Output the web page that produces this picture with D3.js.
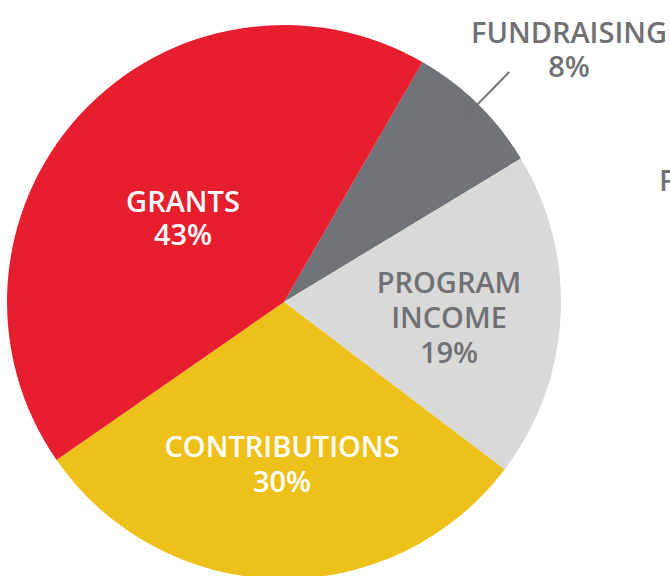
<!DOCTYPE html>
<html lang="en">
<head>
  <meta charset="UTF-8">
  <title>Revenue</title>
  <style>
    body { margin: 0; background: #fff; }
    svg { display: block; }
    .label { font-family: "Open Sans", sans-serif; font-weight: 600; font-size: 29px; text-anchor: middle; }
  </style>
</head>
<body>
  <script src="https://cdn.jsdelivr.net/npm/d3@7"></script>
  <script>
    const categories = ['FUNDRAISING', 'PROGRAM INCOME', 'CONTRIBUTIONS', 'GRANTS'];
    const values = [8, 19, 30, 43];
    const colors = ['#707377', '#d9d9d8', '#eec11a', '#e61e2d'];
    const textColors = ['#6f7175', '#6f7175', '#ffffff', '#ffffff'];

    const width = 670, height = 576;
    const cx = 284, cy = 302, radius = 277;

    const svg = d3.select('body').append('svg')
      .attr('width', width)
      .attr('height', height);

    const pie = d3.pie().sort(null)
      .startAngle(Math.PI / 6)
      .endAngle(Math.PI / 6 + 2 * Math.PI);
    const arc = d3.arc().innerRadius(0).outerRadius(radius);
    const arcs = pie(values);

    const g = svg.append('g').attr('transform', `translate(${cx},${cy})`);
    g.selectAll('path')
      .data(arcs)
      .enter().append('path')
      .attr('d', arc)
      .attr('fill', (d, i) => colors[i]);

    // leader line for the small slice
    const f = arcs[0];
    const inner = d3.arc().innerRadius(265).outerRadius(265).centroid(f);
    const outer = d3.arc().innerRadius(322).outerRadius(322).centroid(f);
    g.append('line')
      .attr('x1', inner[0]).attr('y1', inner[1])
      .attr('x2', outer[0]).attr('y2', outer[1])
      .attr('stroke', colors[0])
      .attr('stroke-width', 2);

    // label anchors (first baseline), relative to page
    const labelAt = [[569, 43], [449, 293], [282, 457], [183, 212]];
    const lines = (name, v) => name === 'PROGRAM INCOME'
      ? ['PROGRAM', 'INCOME', v + '%'] : [name, v + '%'];
    const lineH = [34, 35, 35, 33];

    categories.forEach((c, i) => {
      const t = svg.append('text')
        .attr('class', 'label')
        .attr('fill', textColors[i])
        .attr('x', labelAt[i][0])
        .attr('y', labelAt[i][1]);
      lines(c, values[i]).forEach((s, k) => {
        t.append('tspan')
          .attr('x', labelAt[i][0])
          .attr('y', labelAt[i][1] + k * lineH[i])
          .text(s);
      });
    });

    // clipped label at the right edge
    svg.append('text')
      .attr('class', 'label')
      .attr('fill', '#6f7175')
      .style('text-anchor', 'start')
      .attr('x', 659)
      .attr('y', 191)
      .text('FUNDRAISING');
  </script>
</body>
</html>
